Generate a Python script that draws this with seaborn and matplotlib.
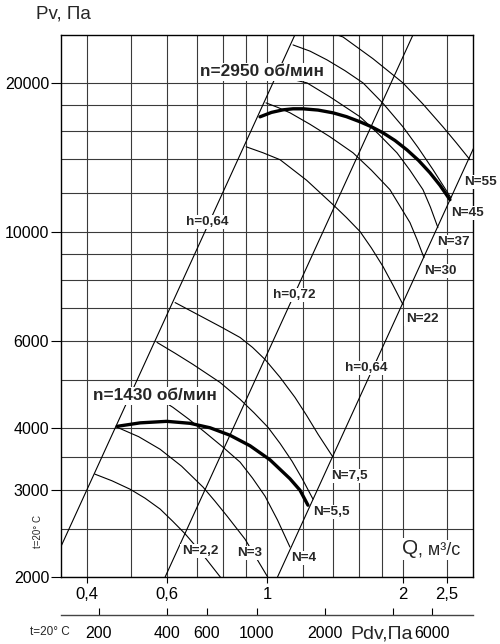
import numpy as np
import matplotlib
matplotlib.use("Agg")
import matplotlib.pyplot as plt
import matplotlib.ticker as mticker
import seaborn as sns

# ---------------- data ----------------
Q_TICKS = [0.4, 0.6, 1, 2, 2.5]
Q_TICK_LABELS = ["0,4", "0,6", "1", "2", "2,5"]
Q_GRID_MINOR = [0.5, 0.7, 0.8, 0.9, 1.2, 1.4, 1.6, 1.8]
P_TICKS = [2000, 3000, 4000, 6000, 10000, 20000]
P_TICK_LABELS = ["2000", "3000", "4000", "6000", "10000", "20000"]
P_GRID_MINOR = [2500, 3500, 5000, 7000, 8000, 9000, 12000, 14000, 16000, 18000]
PDV_TICKS = [200, 400, 600, 1000, 2000, 4000, 6000]
PDV_TICK_LABELS = ["200", "400", "600", "1000", "2000", "", "6000"]
PDV_PER_Q2 = 1111.0  # dynamic pressure Pdv = k * Q^2

# fan curves
fan1430_q = [0.466, 0.524, 0.600, 0.676, 0.748, 0.828, 0.917, 1.015, 1.124, 1.183, 1.232]
fan1430_p = [4036, 4102, 4131, 4093, 4009, 3872, 3687, 3454, 3162, 2997, 2795]
fan2950_q = [0.965, 1.023, 1.085, 1.142, 1.201, 1.297, 1.40, 1.50, 1.606, 1.703,
             1.806, 1.920, 2.04, 2.164, 2.294, 2.414, 2.54]
fan2950_p = [17075, 17430, 17640, 17725, 17725, 17620, 17395, 17085, 16685, 16300,
             15850, 15290, 14640, 13940, 13158, 12413, 11604]

# efficiency lines (P ~ Q^2)
eta_left_q = [0.33, 1.17]
eta_left_p = [2050, 25770]
eta_mid_q = [0.595, 2.11]
eta_mid_p = [2000, 25150]
eta_right_q = [1.055, 2.9]
eta_right_p = [2000, 15110]

# power arcs, n = 1430
n22_q = [0.416, 0.454, 0.498, 0.537, 0.580, 0.618, 0.659, 0.711, 0.795]
n22_p = [3230, 3131, 3010, 2888, 2745, 2595, 2445, 2255, 1980]
n3_q = [0.466, 0.520, 0.580, 0.647, 0.722, 0.767, 0.816, 0.894, 1.01]
n3_p = [4018, 3846, 3627, 3352, 3040, 2848, 2656, 2386, 1980]
n4_q = [0.516, 0.565, 0.619, 0.672, 0.729, 0.797, 0.872, 0.929, 0.990, 1.055, 1.124]
n4_p = [4840, 4648, 4410, 4170, 3926, 3670, 3415, 3170, 2915, 2608, 2300]
n55_q = [0.571, 0.626, 0.686, 0.787, 0.872, 0.936, 1.005, 1.069, 1.136, 1.198, 1.264]
n55_p = [5967, 5674, 5385, 4953, 4577, 4299, 4018, 3726, 3431, 3155, 2875]
n75_q = [0.626, 0.722, 0.793, 0.872, 0.929, 0.990, 1.069, 1.153, 1.223, 1.297, 1.400]
n75_p = [7185, 6705, 6406, 6105, 5830, 5512, 5070, 4620, 4250, 3890, 3495]

# power arcs, n = 2950
N22_q = [0.899, 0.980, 1.069, 1.223, 1.400, 1.500, 1.607, 1.703, 1.806, 1.900, 1.999]
N22_p = [14850, 14440, 13980, 12710, 11340, 10673, 10000, 9262, 8500, 7796, 7120]
N30_q = [0.995, 1.058, 1.124, 1.245, 1.378, 1.550, 1.703, 1.871, 2.072, 2.147, 2.225]
N30_p = [18220, 17830, 17400, 16490, 15560, 14440, 13310, 12160, 10430, 9648, 8860]
N37_q = [1.052, 1.136, 1.226, 1.378, 1.607, 1.765, 1.939, 2.072, 2.214, 2.300, 2.389]
N37_p = [20570, 20330, 20000, 18740, 17075, 15760, 14440, 13310, 12160, 11206, 10190]
N45_q = [1.142, 1.245, 1.358, 1.488, 1.631, 1.806, 1.999, 2.159, 2.330, 2.553]
N45_p = [23870, 23190, 22260, 21170, 20000, 18180, 16300, 14800, 13350, 11710]
N55_q = [1.183, 1.473, 1.716, 1.999, 2.214, 2.451, 2.626, 2.813]
N55_p = [26560, 24770, 22385, 20000, 18120, 16300, 15115, 13980]

# ---------------- figure ----------------
sns.set_theme(style="white")
plt.rcParams["font.family"] = ["Liberation Sans", "DejaVu Sans"]

fig = plt.figure(figsize=(5.0, 6.44), dpi=100)
ax = fig.add_axes([61 / 500, 1 - 577 / 644, 412 / 500, 542 / 644])

thin = dict(color="black", linewidth=0.8, sort=False, estimator=None)
for q, p in [(eta_left_q, eta_left_p), (eta_mid_q, eta_mid_p), (eta_right_q, eta_right_p),
             (n22_q, n22_p), (n3_q, n3_p), (n4_q, n4_p), (n55_q, n55_p), (n75_q, n75_p),
             (N22_q, N22_p), (N30_q, N30_p), (N37_q, N37_p), (N45_q, N45_p), (N55_q, N55_p)]:
    sns.lineplot(x=q, y=p, ax=ax, **thin)
for q, p in [(fan1430_q, fan1430_p), (fan2950_q, fan2950_p)]:
    sns.lineplot(x=q, y=p, ax=ax, color="black", linewidth=2.4, sort=False,
                 estimator=None, zorder=3)
for line in ax.get_lines():
    line.set_solid_joinstyle("round")
    line.set_solid_capstyle("round")

ax.set_xscale("log")
ax.set_yscale("log")
ax.set_xlim(0.35, 2.857)
ax.set_ylim(2000, 25000)
ax.set_xlabel("")
ax.set_ylabel("")

ax.xaxis.set_major_locator(mticker.FixedLocator(Q_TICKS))
ax.xaxis.set_major_formatter(mticker.FixedFormatter(Q_TICK_LABELS))
ax.xaxis.set_minor_locator(mticker.FixedLocator(Q_GRID_MINOR))
ax.xaxis.set_minor_formatter(mticker.NullFormatter())
ax.yaxis.set_major_locator(mticker.FixedLocator(P_TICKS))
ax.yaxis.set_major_formatter(mticker.FixedFormatter(P_TICK_LABELS))
ax.yaxis.set_minor_locator(mticker.FixedLocator(P_GRID_MINOR))
ax.yaxis.set_minor_formatter(mticker.NullFormatter())

ax.grid(True, which="both", color="#3a3a3a", linewidth=0.8)
ax.set_axisbelow(True)
ax.tick_params(axis="y", which="major", direction="out", length=7.5, width=0.8,
               pad=1, labelsize=11.5, colors="black", left=True)
ax.tick_params(axis="x", which="major", direction="out", length=4, width=0.8,
               pad=3, labelsize=12, colors="black", bottom=True)
ax.tick_params(which="minor", length=0)
for s in ax.spines.values():
    s.set_color("black")
    s.set_linewidth(1.0)

# secondary dynamic-pressure axis
def q2p(q):
    q = np.asarray(q, dtype=float)
    return PDV_PER_Q2 * q ** 2

def p2q(p):
    p = np.asarray(p, dtype=float)
    return np.sqrt(np.maximum(p, 1e-12) / PDV_PER_Q2)

sec = ax.secondary_xaxis(-38 / 542, functions=(q2p, p2q))
sec.set_xticks(PDV_TICKS, labels=PDV_TICK_LABELS)
sec.xaxis.set_minor_locator(mticker.NullLocator())
sec.tick_params(axis="x", direction="in", length=5, width=0.8, pad=8,
                labelsize=11.5, colors="black")
for s in sec.spines.values():
    s.set_color("#444444")
    s.set_linewidth(1.0)

# ---------------- labels ----------------
box = dict(facecolor="white", edgecolor="none", pad=1.0)

def axtext(x, y, s, size=9.7, weight="bold", **kw):
    ax.text((x - 61) / 412, (577 - y) / 542, s, transform=ax.transAxes,
            ha=kw.pop("ha", "center"), va="center", fontsize=size,
            fontweight=weight, bbox=box, zorder=6, **kw)

axtext(262, 72, "n=2950 об/мин", size=12.4)
axtext(155, 396, "n=1430 об/мин", size=12.4)
axtext(207, 222, "h=0,64")
axtext(294, 295, "h=0,72")
axtext(366, 368, "h=0,64")
axtext(200, 551, "N=2,2")
axtext(250, 553, "N=3")
axtext(304, 558, "N=4")
axtext(331, 512, "N=5,5")
axtext(349, 476, "N=7,5")
axtext(422, 319, "N=22")
axtext(440, 271, "N=30")
axtext(453, 242, "N=37")
axtext(468, 213, "N=45")
axtext(480, 182, "N=55")
axtext(410, 549, "Q", size=15, weight="normal")
axtext(418, 550, ", м³/с", size=13, weight="normal", ha="left")

fig.text(63 / 500, 1 - 14 / 644, "Pv, Па", fontsize=13.5, ha="center", va="center")
fig.text(382 / 500, 1 - 634 / 644, "Pdv,Па", fontsize=14, ha="center", va="center")
fig.text(50 / 500, 1 - 632 / 644, "t=20° C", fontsize=8.5, ha="center", va="center")
fig.text(38 / 500, 1 - 531 / 644, "t=20° C", fontsize=7, ha="center", va="center",
         rotation=90)

fig.savefig("out.png", dpi=100)
